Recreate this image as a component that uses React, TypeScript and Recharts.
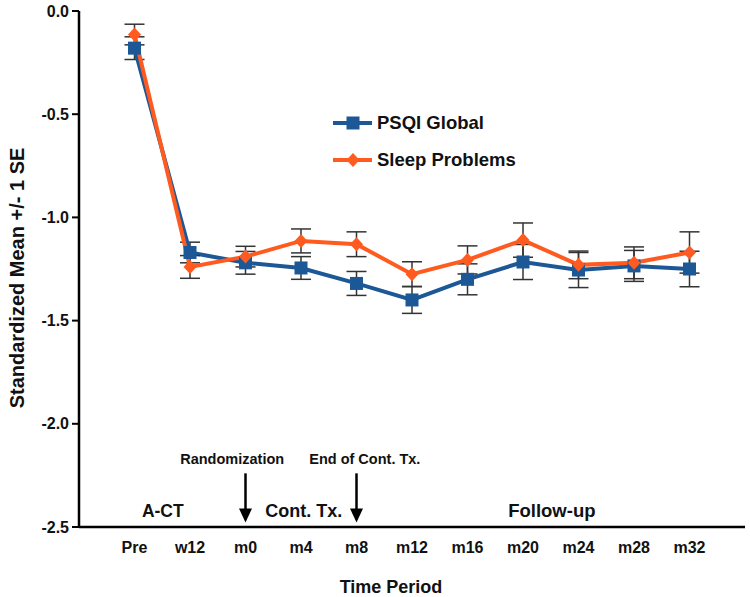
import React from 'react';
import {
  LineChart,
  Line,
  XAxis,
  YAxis,
  ErrorBar,
  Legend,
  ReferenceDot,
  ReferenceLine,
} from 'recharts';

const periods = ['Pre', 'w12', 'm0', 'm4', 'm8', 'm12', 'm16', 'm20', 'm24', 'm28', 'm32'];
const psqiGlobal = [-0.18, -1.17, -1.22, -1.245, -1.32, -1.4, -1.3, -1.216, -1.255, -1.235, -1.25];
const psqiSe = [0.055, 0.05, 0.055, 0.055, 0.058, 0.065, 0.075, 0.085, 0.085, 0.075, 0.086];
const sleepProblems = [-0.114, -1.24, -1.19, -1.114, -1.13, -1.275, -1.206, -1.11, -1.23, -1.22, -1.17];
const sleepSe = [0.05, 0.055, 0.05, 0.058, 0.06, 0.06, 0.068, 0.083, 0.067, 0.077, 0.1];
const yTicks = [0, -0.5, -1, -1.5, -2, -2.5];

const BLUE = '#1c5896';
const ORANGE = '#ff5a1f';
const FONT = 'Arial, "Liberation Sans", sans-serif';

const data = periods.map((p, i) => ({
  idx: i + 1,
  period: p,
  psqi: psqiGlobal[i],
  psqiErr: psqiSe[i],
  sleep: sleepProblems[i],
  sleepErr: sleepSe[i],
}));

const Square = (props: any) => {
  const { cx, cy } = props;
  if (cx == null || cy == null) return null;
  return <rect x={cx - 6.5} y={cy - 6.5} width={13} height={13} fill={BLUE} />;
};

const Diamond = (props: any) => {
  const { cx, cy } = props;
  if (cx == null || cy == null) return null;
  return <polygon points={`${cx},${cy - 7} ${cx + 6.5},${cy} ${cx},${cy + 7} ${cx - 6.5},${cy}`} fill={ORANGE} />;
};

const ArrowHead = (props: any) => {
  const { cx, cy } = props;
  return <polygon points={`${cx - 6.5},${cy - 14} ${cx + 6.5},${cy - 14} ${cx},${cy}`} fill="#000" />;
};

const LegendContent = () => (
  <div style={{ fontFamily: FONT, fontWeight: 'bold', fontSize: 18.5, color: '#111' }}>
    {[
      { name: 'PSQI Global', color: BLUE, marker: 'square' },
      { name: 'Sleep Problems', color: ORANGE, marker: 'diamond' },
    ].map((item) => (
      <div key={item.name} style={{ display: 'flex', alignItems: 'center', height: 37, whiteSpace: 'nowrap' }}>
        <svg width={40} height={16}>
          <line x1={0} y1={8} x2={39} y2={8} stroke={item.color} strokeWidth={4} />
          {item.marker === 'square' ? (
            <rect x={13.5} y={1.5} width={13} height={13} fill={item.color} />
          ) : (
            <polygon points="20,1 26.5,8 20,15 13.5,8" fill={item.color} />
          )}
        </svg>
        <span style={{ marginLeft: 4 }}>{item.name}</span>
      </div>
    ))}
  </div>
);

const YLabel = () => (
  <text
    x={17}
    y={278}
    transform="rotate(-90 17 278)"
    textAnchor="middle"
    dominantBaseline="central"
    fontFamily={FONT}
    fontWeight="bold"
    fontSize={20}
    fill="#111"
  >
    Standardized Mean +/- 1 SE
  </text>
);

const XLabel = (props: any) => {
  const { viewBox } = props;
  return (
    <text
      x={viewBox.x + 312}
      y={viewBox.y + 60}
      textAnchor="middle"
      dominantBaseline="central"
      fontFamily={FONT}
      fontWeight="bold"
      fontSize={18}
      fill="#111"
    >
      Time Period
    </text>
  );
};

const annoStyle = { fontFamily: FONT, fontWeight: 'bold', fill: '#111' } as any;

export default function App() {
  return (
    <div style={{ position: 'absolute', left: 0, top: 0, background: '#fff' }}>
      <LineChart width={750} height={597} data={data} margin={{ top: 11, right: 5, left: 0, bottom: 0 }}>
        <XAxis
          dataKey="idx"
          type="number"
          domain={[0, 12]}
          ticks={data.map((d) => d.idx)}
          tickFormatter={(v) => periods[v - 1] ?? ''}
          axisLine={{ stroke: '#000', strokeWidth: 2.5 }}
          tickLine={false}
          tickSize={0}
          tickMargin={15}
          height={70}
          tick={{ fontFamily: FONT, fontWeight: 'bold', fontSize: 16, fill: '#111' }}
          label={<XLabel />}
        />
        <YAxis
          type="number"
          domain={[-2.5, 0]}
          ticks={yTicks}
          tickFormatter={(v) => v.toFixed(1)}
          width={79}
          axisLine={{ stroke: '#000', strokeWidth: 2.5 }}
          tickLine={{ stroke: '#000', strokeWidth: 2 }}
          tickSize={7}
          tickMargin={3}
          tick={{ fontFamily: FONT, fontWeight: 'bold', fontSize: 16, fill: '#111' }}
          label={<YLabel />}
        />
        <Legend
          layout="vertical"
          align="center"
          verticalAlign="middle"
          content={<LegendContent />}
          wrapperStyle={{ position: 'absolute', left: 333, top: 104, width: 'auto' }}
        />

        <ReferenceDot x={1.51} y={-2.42} r={0} fill="none" stroke="none"
          label={{ value: 'A-CT', position: 'center', fontSize: 17.5, ...annoStyle }} />
        <ReferenceDot x={2.76} y={-2.172} r={0} fill="none" stroke="none"
          label={{ value: 'Randomization', position: 'center', fontSize: 14.5, ...annoStyle }} />
        <ReferenceDot x={4.05} y={-2.42} r={0} fill="none" stroke="none"
          label={{ value: 'Cont. Tx.', position: 'center', fontSize: 18, ...annoStyle }} />
        <ReferenceDot x={5.15} y={-2.172} r={0} fill="none" stroke="none"
          label={{ value: 'End of Cont. Tx.', position: 'center', fontSize: 14.5, ...annoStyle }} />
        <ReferenceDot x={8.52} y={-2.42} r={0} fill="none" stroke="none"
          label={{ value: 'Follow-up', position: 'center', fontSize: 18.5, ...annoStyle }} />

        <ReferenceLine segment={[{ x: 3, y: -2.24 }, { x: 3, y: -2.42 }]} stroke="#000" strokeWidth={2.5} />
        <ReferenceDot x={3} y={-2.478} shape={<ArrowHead />} />
        <ReferenceLine segment={[{ x: 5, y: -2.24 }, { x: 5, y: -2.42 }]} stroke="#000" strokeWidth={2.5} />
        <ReferenceDot x={5} y={-2.478} shape={<ArrowHead />} />

        <Line
          dataKey="psqi"
          stroke={BLUE}
          strokeWidth={4}
          dot={<Square />}
          activeDot={false}
          isAnimationActive={false}
        >
          <ErrorBar dataKey="psqiErr" direction="y" width={10} stroke="#333" strokeWidth={1.5} />
        </Line>
        <Line
          dataKey="sleep"
          stroke={ORANGE}
          strokeWidth={4}
          dot={<Diamond />}
          activeDot={false}
          isAnimationActive={false}
        >
          <ErrorBar dataKey="sleepErr" direction="y" width={10} stroke="#333" strokeWidth={1.5} />
        </Line>
      </LineChart>
    </div>
  );
}
